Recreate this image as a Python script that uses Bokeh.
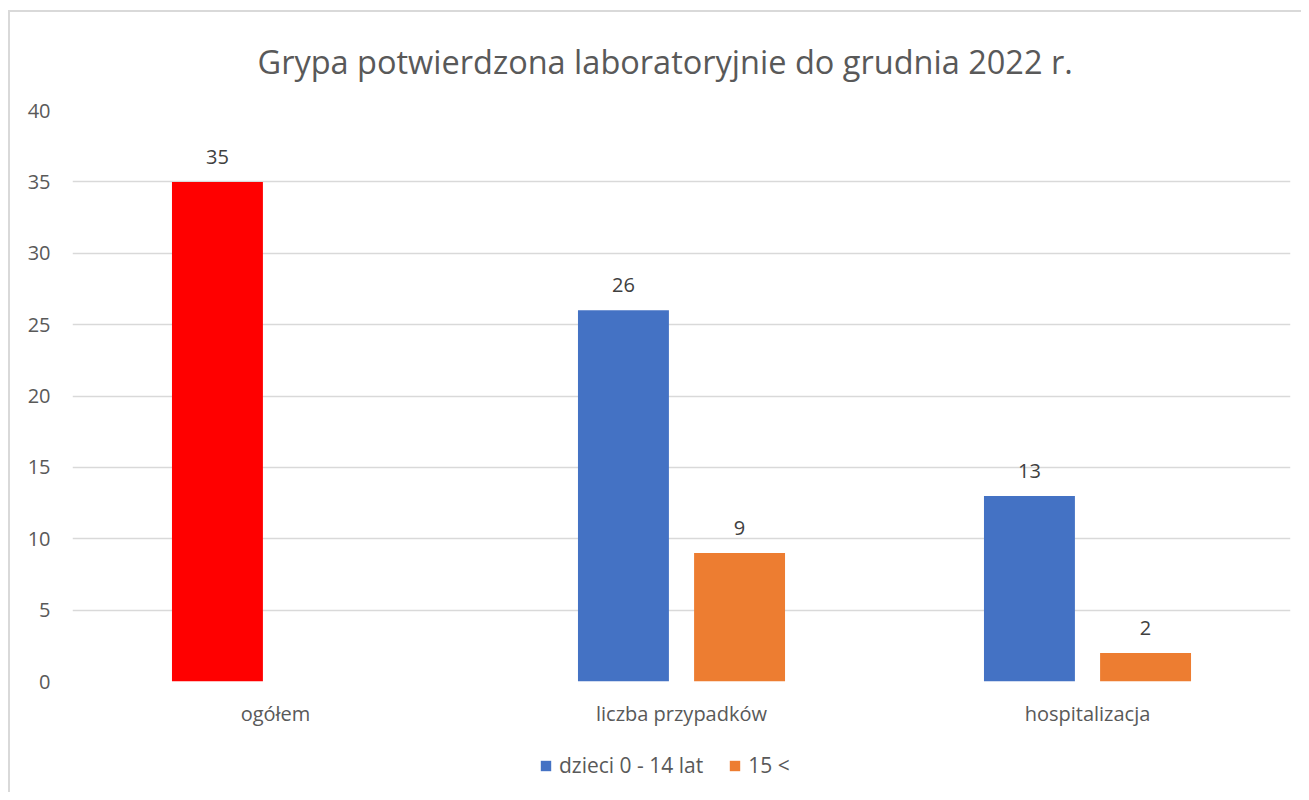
from bokeh.plotting import figure
from bokeh.layouts import column
from bokeh.models import (ColumnDataSource, FactorRange, Legend, LegendItem,
                          FixedTicker, Range1d)
from bokeh.transform import dodge
from bokeh.embed import file_html
from bokeh.resources import INLINE
from bokeh.core.properties import value

# ---- data ----
categories = ["ogółem", "liczba przypadków", "hospitalizacja"]
series_names = ["dzieci 0 - 14 lat", "15 <"]
series_colors = ["#4472C4", "#ED7D31"]
dzieci = [35, 26, 13]
starsi = [None, 9, 2]
dzieci_colors = ["#FF0000", "#4472C4", "#4472C4"]
y_ticks = [0, 5, 10, 15, 20, 25, 30, 35, 40]
title_text = "Grypa potwierdzona laboratoryjnie do grudnia 2022 r."

FONT = "Open Sans"
TXT = "#595959"
FS = "20px"

src1 = ColumnDataSource(dict(
    cat=categories, val=dzieci, color=dzieci_colors,
    lab=[str(v) for v in dzieci]))
c2 = [c for c, v in zip(categories, starsi) if v is not None]
v2 = [v for v in starsi if v is not None]
src2 = ColumnDataSource(dict(cat=c2, val=v2, lab=[str(v) for v in v2]))

p = figure(x_range=FactorRange(*categories, range_padding=0),
           y_range=Range1d(0, 40),
           width=1291, height=728,
           output_backend="svg", toolbar_location=None,
           min_border_left=62, min_border_right=11,
           min_border_top=98, min_border_bottom=59)

p.title.text = title_text
p.title.text_font = FONT
p.title.text_font_size = "32.5px"
p.title.text_font_style = "normal"
p.title.text_color = TXT
p.title.align = "left"
p.title.vertical_align = "middle"
p.title.offset = 185
p.title.standoff = 51

OFF = 0.143
W = 0.224
p.vbar(x=dodge("cat", -OFF, range=p.x_range), top="val", width=W,
       source=src1, fill_color="color", line_color=None)
p.vbar(x=dodge("cat", OFF, range=p.x_range), top="val", width=W,
       source=src2, fill_color=series_colors[1], line_color=None)

for s, off in ((src1, -OFF), (src2, OFF)):
    p.text(x=dodge("cat", off, range=p.x_range), y="val", text="lab",
           source=s, text_align="center", text_baseline="middle",
           y_offset=-25, text_font=value(FONT), text_font_size=FS,
           text_color="#404040")

# axes
p.yaxis.ticker = FixedTicker(ticks=y_ticks)
p.yaxis.axis_line_color = None
p.yaxis.major_tick_line_color = None
p.yaxis.minor_tick_line_color = None
p.yaxis.major_label_standoff = 16
p.yaxis.major_label_text_font = FONT
p.yaxis.major_label_text_font_size = FS
p.yaxis.major_label_text_color = TXT

p.xaxis.axis_line_color = None
p.xaxis.major_tick_line_color = None
p.xaxis.major_label_standoff = 12
p.xaxis.major_label_text_font = FONT
p.xaxis.major_label_text_font_size = FS
p.xaxis.major_label_text_color = TXT

p.xgrid.grid_line_color = None
p.ygrid.grid_line_color = "#d9d9d9"
p.ygrid.grid_line_width = 1.5
p.outline_line_color = None

# ---- legend strip ----
q = figure(width=1291, height=52, x_range=Range1d(0, 1), y_range=Range1d(0, 1),
           output_backend="svg", toolbar_location=None,
           min_border_left=62, min_border_right=11,
           min_border_top=0, min_border_bottom=0)
q.axis.visible = False
q.grid.visible = False
q.outline_line_color = None
proxies = [q.vbar(x=[-5], top=[-5], bottom=[-6], width=0.1,
                  fill_color=c, line_color=None)
           for c in series_colors]
legend = Legend(items=[LegendItem(label=n, renderers=[r])
                       for n, r in zip(series_names, proxies)],
                orientation="horizontal", location=(467, 13),
                label_text_font=FONT, label_text_font_size="21px",
                label_text_color=TXT, glyph_width=13, glyph_height=13,
                spacing=25, padding=0, margin=0,
                border_line_color=None, background_fill_alpha=0,
                label_standoff=7)
q.add_layout(legend, "center")

layout = column(p, q, spacing=0)
layout.styles = {"border-left": "2px solid #d9d9d9",
                 "border-top": "2px solid #d9d9d9",
                 "margin-left": "8px", "margin-top": "10px"}

open("out.html", "w").write(file_html(layout, INLINE))
